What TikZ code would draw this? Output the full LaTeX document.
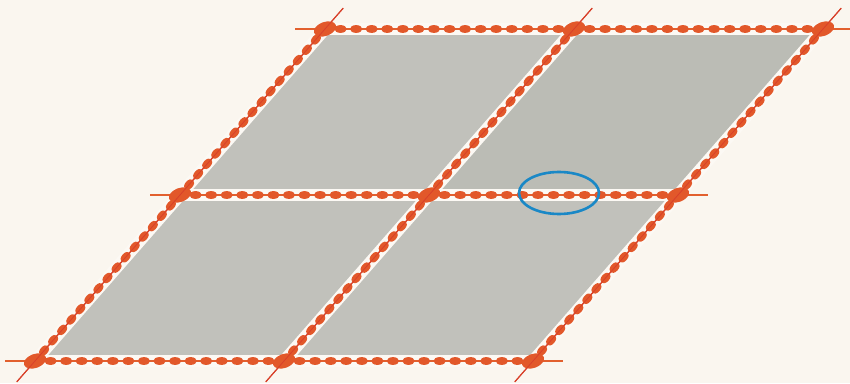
\documentclass[tikz,border=0pt]{standalone}
\usetikzlibrary{calc}
\definecolor{bg}{HTML}{FAF6EF}
\definecolor{tilegray}{HTML}{C1C1BB}
\definecolor{tilegraydk}{HTML}{BBBCB5}
\definecolor{band}{HTML}{FCF9F4}
\definecolor{bead}{HTML}{E2582A}
\definecolor{wire}{HTML}{D8402A}
\definecolor{hwire}{HTML}{E2602E}
\definecolor{ring}{HTML}{1A88C6}
\tikzset{
  tile/.style={fill=tilegray},
  bandline/.style={draw=band, line width=12pt},
  wireline/.style={draw=wire, line width=1.2pt},
  beadfill/.style={fill=bead},
  ringline/.style={draw=ring, line width=2.6pt}
}
\begin{document}
\begin{tikzpicture}[x=1pt,y=1pt]
\useasboundingbox[fill=bg] (0,0) rectangle (850,383);
% lattice vertices
\foreach \i in {0,1,2}{
  \foreach \j in {0,1,2}{
    \coordinate (v\i\j) at ({35+249*\i+145*\j},{22+166*\j});
  }
}
% tiles
\fill[tile] (v00) -- (v10) -- (v11) -- (v01) -- cycle;
\fill[tile] (v10) -- (v20) -- (v21) -- (v11) -- cycle;
\fill[tile] (v01) -- (v11) -- (v12) -- (v02) -- cycle;
\fill[tile,fill=tilegraydk] (v11) -- (v21) -- (v22) -- (v12) -- cycle;
% light bands along the edges
\foreach \j in {0,1,2}{ \draw[bandline] (v0\j) -- (v2\j); }
\foreach \i in {0,1,2}{ \draw[bandline] (v\i0) -- (v\i2); }
% thin wires, extended past the border
\foreach \j in {0,1,2}{ \draw[wireline,draw=hwire] ($(v0\j)+(-30,0)$) -- ($(v2\j)+(30,0)$); }
\foreach \i in {0,1,2}{ \draw[wireline] ($(v\i0)!-0.063!(v\i2)$) -- ($(v\i2)!-0.063!(v\i0)$); }
% beads on horizontal edges
\foreach \j in {0,1,2}{
  \foreach \i in {0,1}{
    \pgfmathtruncatemacro{\ni}{\i+1}
    \foreach \k in {1,...,15}{
      \fill[beadfill] ($(v\i\j)!\k/16!(v\ni\j)$) ellipse [x radius=6.2, y radius=3.9];
    }
  }
}
% beads on slanted edges
\foreach \i in {0,1,2}{
  \foreach \j in {0,1}{
    \pgfmathtruncatemacro{\nj}{\j+1}
    \foreach \k in {1,...,15}{
      \fill[beadfill] ($(v\i\j)!\k/16!(v\i\nj)$) ellipse [x radius=6.3, y radius=4, rotate=48.86];
    }
  }
}
% large beads at the vertices
\foreach \i in {0,1,2}{
  \foreach \j in {0,1,2}{
    \fill[beadfill] (v\i\j) ellipse [x radius=11.5, y radius=7, rotate=20];
  }
}
% redraw slanted wires over the beads
\foreach \i in {0,1,2}{ \draw[wireline,line width=0.8pt] ($(v\i0)!-0.063!(v\i2)$) -- ($(v\i2)!-0.063!(v\i0)$); }
% highlight ring
\coordinate (hl) at (559,190);
\draw[ringline] (hl) ellipse [x radius=40, y radius=21];
\end{tikzpicture}
\end{document}
